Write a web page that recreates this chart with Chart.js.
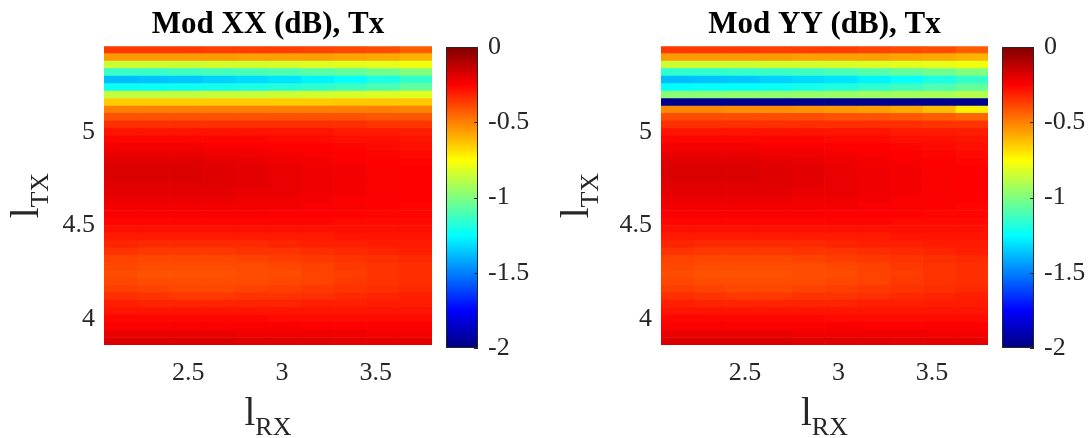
<!DOCTYPE html>
<html>
<head>
<meta charset="utf-8">
<script src="https://cdn.jsdelivr.net/npm/chart.js@4/dist/chart.umd.min.js"></script>
<style>
  body { margin: 0; background: #fff; }
  #wrap { position: relative; width: 1089px; height: 438px; overflow: hidden; }
  .box { position: absolute; top: 0; height: 438px; }
</style>
</head>
<body>
<div id="wrap">
  <div class="box" style="left:0;width:440px"><canvas id="mapXX"></canvas></div>
  <div class="box" style="left:440px;width:100px"><canvas id="barXX"></canvas></div>
  <div class="box" style="left:550px;width:445px"><canvas id="mapYY"></canvas></div>
  <div class="box" style="left:995px;width:94px"><canvas id="barYY"></canvas></div>
</div>
<script>
// l_RX column edges (one cell per pair of edges)
const rxEdges = [2.05, 2.225, 2.4, 2.575, 2.75, 2.925, 3.1, 3.275, 3.45, 3.625, 3.8];
// l_TX row centres, top row first
const txRows = [5.44, 5.40, 5.36, 5.32, 5.28, 5.24, 5.20, 5.16, 5.12, 5.08,
                5.04, 5.00, 4.96, 4.92, 4.88, 4.84, 4.80, 4.76, 4.72, 4.68,
                4.64, 4.60, 4.56, 4.52, 4.48, 4.44, 4.40, 4.36, 4.32, 4.28,
                4.24, 4.20, 4.16, 4.12, 4.08, 4.04, 4.00, 3.96, 3.92, 3.88];

const xTicks = [2.5, 3, 3.5];
const yTicks = [4, 4.5, 5];
const cbTicks = [-2, -1.5, -1, -0.5, 0];
const CMIN = -2, CMAX = 0;

// |S_XX| in dB, one row per txRows entry, one value per rx column
const modXX = [
  [-0.36, -0.36, -0.36, -0.37, -0.37, -0.37, -0.38, -0.39, -0.40, -0.43],
  [-0.55, -0.55, -0.55, -0.55, -0.56, -0.56, -0.56, -0.57, -0.58, -0.60],
  [-0.85, -0.85, -0.85, -0.84, -0.84, -0.83, -0.82, -0.81, -0.80, -0.78],
  [-1.14, -1.14, -1.13, -1.12, -1.11, -1.10, -1.08, -1.06, -1.03, -1.00],
  [-1.38, -1.37, -1.36, -1.34, -1.32, -1.30, -1.27, -1.24, -1.20, -1.15],
  [-1.23, -1.23, -1.22, -1.21, -1.20, -1.18, -1.16, -1.13, -1.10, -1.06],
  [-0.87, -0.87, -0.87, -0.86, -0.86, -0.85, -0.84, -0.83, -0.82, -0.81],
  [-0.65, -0.65, -0.65, -0.65, -0.65, -0.65, -0.65, -0.64, -0.64, -0.64],
  [-0.50, -0.50, -0.50, -0.50, -0.50, -0.50, -0.50, -0.50, -0.50, -0.51],
  [-0.41, -0.41, -0.41, -0.41, -0.41, -0.41, -0.41, -0.41, -0.42, -0.42],
  [-0.34, -0.34, -0.34, -0.34, -0.34, -0.34, -0.34, -0.34, -0.35, -0.35],
  [-0.29, -0.29, -0.29, -0.29, -0.29, -0.29, -0.29, -0.30, -0.30, -0.31],
  [-0.26, -0.26, -0.26, -0.26, -0.26, -0.27, -0.27, -0.28, -0.28, -0.29],
  [-0.23, -0.23, -0.23, -0.24, -0.24, -0.25, -0.25, -0.26, -0.27, -0.28],
  [-0.21, -0.21, -0.21, -0.22, -0.22, -0.23, -0.24, -0.25, -0.26, -0.27],
  [-0.19, -0.19, -0.19, -0.20, -0.21, -0.22, -0.23, -0.24, -0.25, -0.26],
  [-0.18, -0.18, -0.18, -0.19, -0.20, -0.21, -0.22, -0.23, -0.24, -0.25],
  [-0.18, -0.18, -0.18, -0.19, -0.20, -0.21, -0.22, -0.23, -0.24, -0.25],
  [-0.19, -0.19, -0.19, -0.19, -0.20, -0.21, -0.22, -0.23, -0.24, -0.25],
  [-0.20, -0.20, -0.20, -0.20, -0.21, -0.21, -0.22, -0.23, -0.24, -0.25],
  [-0.21, -0.21, -0.21, -0.21, -0.22, -0.22, -0.23, -0.24, -0.24, -0.25],
  [-0.23, -0.23, -0.23, -0.23, -0.23, -0.23, -0.24, -0.24, -0.25, -0.26],
  [-0.24, -0.24, -0.24, -0.24, -0.24, -0.25, -0.25, -0.25, -0.26, -0.26],
  [-0.26, -0.26, -0.26, -0.26, -0.26, -0.26, -0.26, -0.27, -0.27, -0.27],
  [-0.28, -0.28, -0.28, -0.28, -0.28, -0.28, -0.28, -0.28, -0.28, -0.28],
  [-0.30, -0.30, -0.30, -0.30, -0.30, -0.30, -0.30, -0.29, -0.29, -0.29],
  [-0.32, -0.33, -0.33, -0.33, -0.33, -0.32, -0.31, -0.31, -0.30, -0.30],
  [-0.35, -0.36, -0.36, -0.36, -0.35, -0.35, -0.34, -0.33, -0.32, -0.31],
  [-0.38, -0.39, -0.39, -0.39, -0.38, -0.37, -0.36, -0.35, -0.34, -0.33],
  [-0.39, -0.40, -0.40, -0.40, -0.40, -0.39, -0.38, -0.36, -0.35, -0.34],
  [-0.40, -0.41, -0.41, -0.41, -0.40, -0.40, -0.38, -0.37, -0.35, -0.34],
  [-0.39, -0.40, -0.40, -0.40, -0.40, -0.39, -0.38, -0.36, -0.35, -0.34],
  [-0.37, -0.38, -0.39, -0.39, -0.38, -0.37, -0.36, -0.35, -0.34, -0.33],
  [-0.34, -0.35, -0.36, -0.36, -0.35, -0.35, -0.34, -0.33, -0.32, -0.31],
  [-0.31, -0.32, -0.32, -0.32, -0.32, -0.32, -0.31, -0.31, -0.30, -0.30],
  [-0.29, -0.29, -0.29, -0.29, -0.29, -0.29, -0.29, -0.29, -0.29, -0.29],
  [-0.26, -0.26, -0.26, -0.26, -0.26, -0.27, -0.27, -0.27, -0.27, -0.27],
  [-0.24, -0.24, -0.24, -0.24, -0.24, -0.24, -0.25, -0.25, -0.25, -0.25],
  [-0.21, -0.21, -0.21, -0.21, -0.22, -0.22, -0.22, -0.22, -0.23, -0.23],
  [-0.18, -0.18, -0.18, -0.18, -0.19, -0.19, -0.19, -0.20, -0.20, -0.20]
];

// rows of |S_YY| that differ from |S_XX| (keyed by row index)
const modYYRows = {
  3: [-1.16, -1.16, -1.15, -1.14, -1.13, -1.11, -1.09, -1.06, -1.03, -1.00],
  5: [-1.25, -1.24, -1.24, -1.23, -1.21, -1.19, -1.16, -1.13, -1.10, -1.06],
  6: [-0.98, -0.98, -0.97, -0.97, -0.96, -0.95, -0.94, -0.93, -0.92, -0.90],
  7: [-1.97, -1.97, -1.97, -1.97, -1.97, -1.97, -1.97, -1.97, -1.97, -1.97],
  8: [-0.52, -0.52, -0.53, -0.53, -0.54, -0.55, -0.56, -0.58, -0.62, -0.72],
  9: [-0.40, -0.40, -0.40, -0.40, -0.40, -0.41, -0.41, -0.42, -0.43, -0.45]
};
const modYY = modXX.map((row, i) => modYYRows[i] || row);

const SERIF = '"Liberation Serif", "Times New Roman", serif';
const INK = '#262626';

// matlab-style jet colormap
function jetRGB(t) {
  const c = x => Math.round(255 * Math.min(1, Math.max(0, 1.5 - Math.abs(4 * t - x))));
  return [c(3), c(2), c(1)];
}
function jet(v) {
  const t = Math.min(1, Math.max(0, (v - CMIN) / (CMAX - CMIN)));
  const [r, g, b] = jetRGB(t);
  return `rgb(${r},${g},${b})`;
}

// one horizontal-bar dataset per rx column; each row is a floating bar [x0, x1]
function heatDatasets(rows) {
  return rxEdges.slice(0, -1).map((x0, j) => ({
    data: txRows.map(ty => ({ x: [x0, rxEdges[j + 1]], y: ty })),
    backgroundColor: rows.map(r => jet(r[j])),
    borderWidth: 0,
    borderSkipped: false,
    grouped: false,
    barPercentage: 1,
    categoryPercentage: 1
  }));
}

// l with a subscript, drawn under / left of the plot
const subLabels = {
  id: 'subLabels',
  afterDraw(chart, args, opts) {
    const { ctx, chartArea: a } = chart;
    const big = `39px ${SERIF}`, small = `26px ${SERIF}`;
    const part = (main, sub, cx, base) => {
      ctx.font = big;
      const w1 = ctx.measureText(main).width;
      ctx.font = small;
      const w2 = ctx.measureText(sub).width;
      const x0 = cx - (w1 + w2) / 2;
      ctx.font = big;
      ctx.fillText(main, x0, base);
      ctx.font = small;
      ctx.fillText(sub, x0 + w1, base + 10);
    };
    ctx.save();
    ctx.fillStyle = INK;
    ctx.textBaseline = 'alphabetic';
    ctx.textAlign = 'left';
    part('l', opts.xSub, (a.left + a.right) / 2, a.bottom + 80);
    ctx.translate(opts.yBase, (a.top + a.bottom) / 2);
    ctx.rotate(-Math.PI / 2);
    part('l', opts.ySub, 0, 0);
    ctx.restore();
  }
};

function heatmap(id, title, rows, yAxisWidth, padRight) {
  return new Chart(document.getElementById(id), {
    type: 'bar',
    data: { datasets: heatDatasets(rows) },
    options: {
      animation: false,
      responsive: true,
      maintainAspectRatio: false,
      indexAxis: 'y',
      layout: { padding: { left: 0, right: padRight, top: 0, bottom: 0 } },
      plugins: {
        legend: { display: false },
        tooltip: { enabled: false },
        title: {
          display: true,
          text: title,
          fullSize: false,
          color: '#000',
          font: { family: SERIF, size: 31, weight: 'bold', lineHeight: 1.2 },
          padding: { top: 6, bottom: 3 }
        },
        subLabels: { xSub: 'RX', ySub: 'TX', yBase: 38 }
      },
      scales: {
        x: {
          type: 'linear',
          min: 2.05,
          max: 3.8,
          offset: false,
          afterBuildTicks: s => { s.ticks = xTicks.map(v => ({ value: v })); },
          afterFit: s => { s.height = 93; },
          grid: { display: false, drawTicks: false, offset: false },
          border: { display: false },
          ticks: { padding: 13, color: INK, font: { family: SERIF, size: 26 }, callback: v => String(v) }
        },
        y: {
          type: 'linear',
          min: 3.86,
          max: 5.46,
          offset: false,
          afterBuildTicks: s => { s.ticks = yTicks.map(v => ({ value: v })); },
          afterFit: s => { s.width = yAxisWidth; },
          grid: { display: false, drawTicks: false, offset: false },
          border: { display: false },
          ticks: { padding: 9, color: INK, font: { family: SERIF, size: 26 }, callback: v => String(v) }
        }
      }
    },
    plugins: [subLabels]
  });
}

// vertical jet gradient filling the colour bar
function jetGradient(c) {
  const { ctx, chartArea } = c.chart;
  if (!chartArea) return 'rgb(0,0,128)';
  const g = ctx.createLinearGradient(0, chartArea.bottom, 0, chartArea.top);
  for (let i = 0; i <= 64; i++) {
    const t = i / 64;
    const [r, gg, b] = jetRGB(t);
    g.addColorStop(t, `rgb(${r},${gg},${b})`);
  }
  return g;
}

// frame and inward ticks of the colour bar
const barFrame = {
  id: 'barFrame',
  afterDatasetsDraw(chart) {
    const { ctx, chartArea: a, scales: { y } } = chart;
    ctx.save();
    ctx.strokeStyle = INK;
    ctx.lineWidth = 1;
    ctx.strokeRect(a.left + 0.5, a.top + 0.5, a.right - a.left - 1, a.bottom - a.top - 1);
    cbTicks.forEach(v => {
      const py = Math.round(y.getPixelForValue(v)) + 0.5;
      ctx.beginPath();
      ctx.moveTo(a.right - 4, py);
      ctx.lineTo(a.right, py);
      ctx.stroke();
    });
    ctx.restore();
  }
};

function colorbar(id, padLeft, axisWidth) {
  return new Chart(document.getElementById(id), {
    type: 'bar',
    data: {
      labels: [''],
      datasets: [{
        data: [[CMIN, CMAX]],
        backgroundColor: jetGradient,
        borderWidth: 0,
        barPercentage: 1,
        categoryPercentage: 1
      }]
    },
    options: {
      animation: false,
      responsive: true,
      maintainAspectRatio: false,
      layout: { padding: { left: padLeft, right: 0, top: 47, bottom: 90 } },
      plugins: { legend: { display: false }, tooltip: { enabled: false } },
      scales: {
        x: { display: false },
        y: {
          position: 'right',
          min: CMIN,
          max: CMAX,
          afterBuildTicks: s => { s.ticks = cbTicks.map(v => ({ value: v })); },
          afterFit: s => { s.width = axisWidth; },
          grid: { display: false, drawTicks: false },
          border: { display: false },
          ticks: { padding: 10, color: INK, font: { family: SERIF, size: 26 }, callback: v => String(v) }
        }
      }
    },
    plugins: [barFrame]
  });
}

heatmap('mapXX', 'Mod XX (dB), Tx', modXX, 104, 8);
colorbar('barXX', 6, 62);
heatmap('mapYY', 'Mod YY (dB), Tx', modYY, 111, 7);
colorbar('barYY', 7, 55);
</script>
</body>
</html>
